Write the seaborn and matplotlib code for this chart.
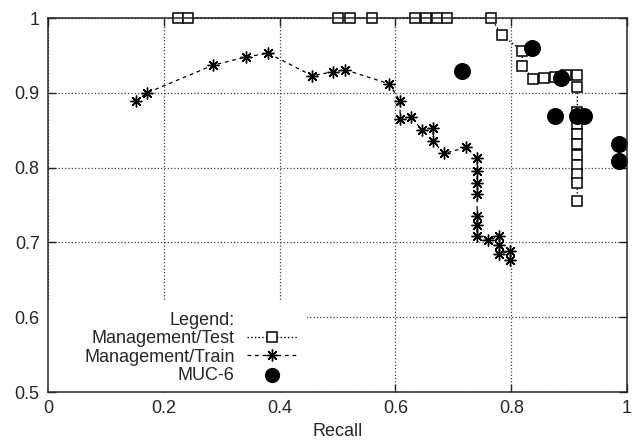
import pandas as pd
import seaborn as sns
import matplotlib.pyplot as plt
from matplotlib.patches import Rectangle
from matplotlib.lines import Line2D

# datos
test_recall = [0.225, 0.242, 0.501, 0.522, 0.560, 0.634, 0.653, 0.672, 0.689, 0.765,
               0.784, 0.819, 0.819, 0.838, 0.857, 0.876, 0.895, 0.914, 0.914, 0.914,
               0.914, 0.914, 0.914, 0.914, 0.914, 0.914, 0.914, 0.914, 0.914]
test_precision = [1.0, 1.0, 1.0, 1.0, 1.0, 1.0, 1.0, 1.0, 1.0, 1.0,
                  0.977, 0.956, 0.936, 0.919, 0.920, 0.921, 0.924, 0.924, 0.908, 0.875,
                  0.869, 0.859, 0.845, 0.831, 0.817, 0.804, 0.792, 0.779, 0.755]

train_recall = [0.152, 0.171, 0.285, 0.342, 0.380, 0.456, 0.492, 0.513, 0.589, 0.608,
                0.608, 0.627, 0.646, 0.665, 0.665, 0.684, 0.722, 0.741, 0.741, 0.741,
                0.741, 0.741, 0.741, 0.741, 0.760, 0.779, 0.779, 0.779, 0.798, 0.798]
train_precision = [0.889, 0.900, 0.937, 0.948, 0.953, 0.923, 0.928, 0.931, 0.912, 0.889,
                   0.865, 0.868, 0.850, 0.853, 0.835, 0.819, 0.827, 0.813, 0.796, 0.780,
                   0.765, 0.736, 0.723, 0.709, 0.703, 0.708, 0.697, 0.684, 0.689, 0.677]

muc_recall = [0.715, 0.836, 0.876, 0.886, 0.913, 0.925, 0.986, 0.986]
muc_precision = [0.929, 0.960, 0.869, 0.920, 0.869, 0.869, 0.831, 0.809]

df_test = pd.DataFrame({"recall": test_recall, "precision": test_precision})
df_train = pd.DataFrame({"recall": train_recall, "precision": train_precision})
df_muc = pd.DataFrame({"recall": muc_recall, "precision": muc_precision})

sns.set_style("ticks")
plt.rcParams["font.family"] = ["Liberation Sans", "DejaVu Sans"]
plt.rcParams["font.size"] = 13

fig = plt.figure(figsize=(6.36, 4.46), dpi=100)
ax = fig.add_axes([0.0755, 0.121, 0.9105, 0.8385])

sns.lineplot(data=df_test, x="recall", y="precision", sort=False, estimator=None,
             color="black", linestyle=":", linewidth=1, marker="s", markersize=6.5,
             markerfacecolor="white", markeredgecolor="black", markeredgewidth=1.1,
             label="Management/Test", ax=ax, zorder=3)
sns.lineplot(data=df_train, x="recall", y="precision", sort=False, estimator=None,
             color="black", linestyle=(0, (3, 3)), linewidth=0.9, marker=(8, 2, 0),
             markersize=8.5, markeredgecolor="black", markeredgewidth=1,
             label="Management/Train", ax=ax, zorder=3)
sns.scatterplot(data=df_muc, x="recall", y="precision", color="black", s=150,
                edgecolor="black", linewidth=0, label="MUC-6", ax=ax, zorder=4)
for ln in ax.lines:
    ln.set_clip_on(False)

ax.set_xlim(0, 1)
ax.set_ylim(0.5, 1)
ax.set_xticks([0, 0.2, 0.4, 0.6, 0.8, 1])
ax.set_xticklabels(["0", "0.2", "0.4", "0.6", "0.8", "1"])
ax.set_yticks([0.5, 0.6, 0.7, 0.8, 0.9, 1])
ax.set_yticklabels(["0.5", "0.6", "0.7", "0.8", "0.9", "1"])
ax.tick_params(direction="in", top=True, right=True, length=6, width=1, pad=6)
ax.set_axisbelow(True)
ax.grid(True, linestyle=":", color="0.25", linewidth=0.9)
for s in ax.spines.values():
    s.set_linewidth(1.1)
    s.set_zorder(5)

ax.set_xlabel("Recall")
ax.set_ylabel("")

# tapa la grilla detras de la leyenda
ax.add_patch(Rectangle((0, 0), 0.448, 0.245, transform=ax.transAxes,
                       facecolor="white", edgecolor="none", zorder=1))

handles, labels = ax.get_legend_handles_labels()
titulo = Line2D([], [], linestyle="none", marker="none")
leg = ax.legend([titulo] + handles, ["Legend:"] + labels,
                loc="lower right", bbox_to_anchor=(0.452, -0.012), frameon=False,
                markerfirst=False, handlelength=2.8, handletextpad=0.65,
                labelspacing=0.07, borderpad=0.2, fontsize=13)
for t in leg.get_texts():
    t.set_ha("right")
for h in leg.legend_handles:
    if hasattr(h, "set_sizes"):
        h.set_sizes([120])

fig.savefig("out.png", dpi=100)
